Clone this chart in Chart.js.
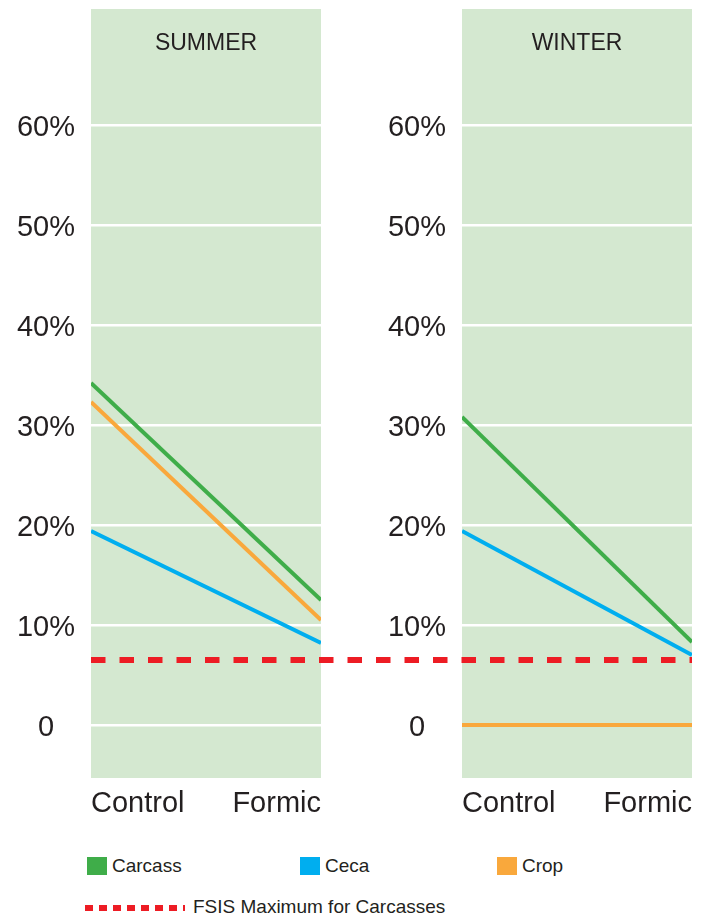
<!DOCTYPE html>
<html>
<head>
<meta charset="utf-8">
<script src="https://cdn.jsdelivr.net/npm/chart.js@4.4.1/dist/chart.umd.min.js"></script>
<style>
  body { margin: 0; width: 708px; height: 918px; position: relative; overflow: hidden; background: #fff;
         font-family: "Liberation Sans", Arial, Helvetica, sans-serif; color: #231f20; }
  canvas { position: absolute; top: 0; }
  #summer { left: 0; }
  #winter { left: 371px; }
  .legend-item { position: absolute; top: 856px; height: 20px; line-height: 20px; font-size: 19px; }
  .legend-item span { display: inline-block; width: 20px; height: 18px; vertical-align: top; margin-right: 5px; margin-top: 1px; }
  #fsis { position: absolute; left: 85px; top: 896px; font-size: 19px; line-height: 22px; }
  #fsis i { display: inline-block; width: 100px; height: 6px; margin-right: 8px; vertical-align: middle;
            background: repeating-linear-gradient(90deg, #ed1c24 0 8px, transparent 8px 14px); }
</style>
</head>
<body>
<canvas id="summer" width="371" height="840"></canvas>
<canvas id="winter" width="337" height="840"></canvas>
<div id="legend"></div>
<div id="fsis"><i></i>FSIS Maximum for Carcasses</div>
<script>
  const categories = ['Control', 'Formic'];
  const seriesNames = ['Carcass', 'Ceca', 'Crop'];
  const seriesColors = ['#3fad49', '#00aeef', '#f9a83c'];

  const summerCarcass = [34.2, 12.5];
  const summerCeca = [19.4, 8.2];
  const summerCrop = [32.3, 10.5];

  const winterCarcass = [30.8, 8.3];
  const winterCeca = [19.4, 7.0];
  const winterCrop = [0, 0];

  const fsisMax = 6.5;

  const tickValues = [0, 10, 20, 30, 40, 50, 60];
  const tickLabels = ['0', '10%', '20%', '30%', '40%', '50%', '60%'];

  // panel layout: the winter panel starts 1.613 panel-widths right of summer
  const panelStep = 1.613;
  const panelBg = '#d4e8d0';
  const textColor = '#231f20';

  const panelPlugin = {
    id: 'panel',
    beforeDraw(chart, args, opts) {
      const {ctx, chartArea: a} = chart;
      ctx.save();
      ctx.fillStyle = panelBg;
      ctx.fillRect(a.left, a.top, a.right - a.left, a.bottom - a.top);
      ctx.fillStyle = textColor;
      ctx.font = '23px "Liberation Sans", Arial, sans-serif';
      ctx.textAlign = 'center';
      ctx.textBaseline = 'middle';
      ctx.fillText(opts.label, (a.left + a.right) / 2, a.top + 35);
      ctx.restore();
    }
  };

  function makeChart(id, label, values, fsisFrom, fsisTo, rightPad) {
    const datasets = values.map((vals, i) => ({
      label: seriesNames[i],
      data: categories.map((c, j) => ({x: j, y: vals[j]})),
      borderColor: seriesColors[i],
      borderWidth: 4,
      pointRadius: 0,
      tension: 0
    }));
    datasets.push({
      label: 'FSIS Maximum for Carcasses',
      data: [{x: fsisFrom, y: fsisMax}, {x: fsisTo, y: fsisMax}],
      borderColor: '#ed1c24',
      borderWidth: 6,
      borderDash: [14.5, 14],
      pointRadius: 0,
      clip: false
    });
    return new Chart(document.getElementById(id), {
      type: 'line',
      data: {datasets},
      options: {
        responsive: false,
        animation: false,
        layout: {padding: {left: 0, right: rightPad, top: 9, bottom: 0}},
        plugins: {legend: {display: false}, tooltip: {enabled: false}, panel: {label}},
        scales: {
          x: {
            type: 'linear', min: 0, max: 1,
            afterBuildTicks: s => { s.ticks = categories.map((c, j) => ({value: j})); },
            afterFit: s => { s.height = 62; s.paddingLeft = 0; s.paddingRight = 0; },
            grid: {display: false, drawTicks: false},
            border: {display: false},
            ticks: {
              callback: (v, i) => categories[i],
              align: 'inner', maxRotation: 0, padding: 9,
              color: textColor, font: {size: 29, family: '"Liberation Sans", Arial, sans-serif'}
            }
          },
          y: {
            min: -5.3, max: 71.6,
            afterBuildTicks: s => { s.ticks = tickValues.map(v => ({value: v})); },
            afterFit: s => { s.width = 91; s.paddingTop = 0; s.paddingBottom = 0; },
            grid: {color: '#ffffff', lineWidth: 2.5, drawTicks: false},
            border: {display: false},
            ticks: {
              callback: (v, i) => tickLabels[i],
              crossAlign: 'center', padding: 16, labelOffset: 3,
              color: textColor, font: {size: 29, family: '"Liberation Sans", Arial, sans-serif'}
            }
          }
        }
      },
      plugins: [panelPlugin]
    });
  }

  makeChart('summer', 'SUMMER', [summerCarcass, summerCeca, summerCrop], 0, 1 + panelStep, 50);
  makeChart('winter', 'WINTER', [winterCarcass, winterCeca, winterCrop], -panelStep, 1, 16);

  const legendLeft = [87, 300, 497];
  const legend = document.getElementById('legend');
  seriesNames.forEach((name, i) => {
    const item = document.createElement('div');
    item.className = 'legend-item';
    item.style.left = legendLeft[i] + 'px';
    item.innerHTML = '<span style="background:' + seriesColors[i] + '"></span>' + name;
    legend.appendChild(item);
  });
</script>
</body>
</html>
